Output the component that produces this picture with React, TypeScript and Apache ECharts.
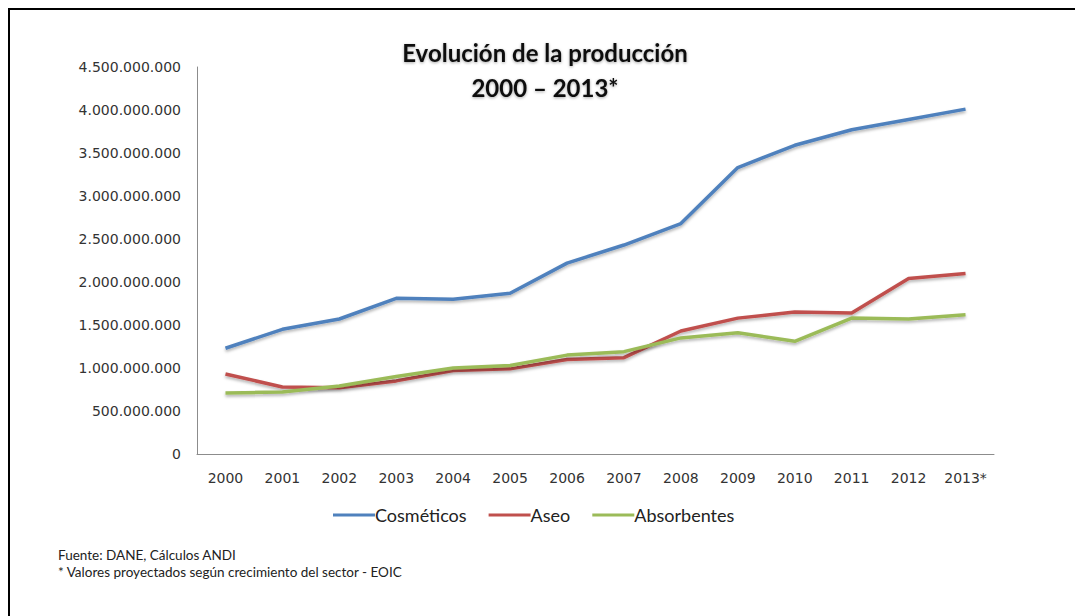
import React, { useEffect, useRef } from "react";
import * as echarts from "echarts";

const years = ["2000", "2001", "2002", "2003", "2004", "2005", "2006", "2007", "2008", "2009", "2010", "2011", "2012", "2013*"];
const cosmeticos = [1230e6, 1450e6, 1570e6, 1810e6, 1800e6, 1870e6, 2220e6, 2430e6, 2680e6, 3330e6, 3590e6, 3770e6, 3890e6, 4010e6];
const aseo = [930e6, 780e6, 770e6, 850e6, 970e6, 990e6, 1100e6, 1120e6, 1430e6, 1580e6, 1650e6, 1640e6, 2040e6, 2100e6];
const absorbentes = [710e6, 720e6, 790e6, 900e6, 1000e6, 1030e6, 1150e6, 1190e6, 1350e6, 1410e6, 1310e6, 1580e6, 1570e6, 1620e6];
const seriesNames = ["Cosméticos", "Aseo", "Absorbentes"];
const colors = ["#4F81BD", "#C0504D", "#9BBB59"];
const titleLines = ["Evolución de la producción", "2000 – 2013*"];
const notes = ["Fuente: DANE, Cálculos ANDI", "* Valores proyectados según crecimiento del sector - EOIC"];

const fmt = (v: number) => String(Math.round(v)).replace(/\B(?=(\d{3})+(?!\d))/g, ".");

export default function App() {
  const ref = useRef<HTMLDivElement>(null);
  useEffect(() => {
    if (!ref.current) return;
    const chart = echarts.init(ref.current, undefined, { renderer: "svg" });
    const data = [cosmeticos, aseo, absorbentes];
    chart.setOption({
      animation: false,
      backgroundColor: "#ffffff",
      textStyle: { fontFamily: "DejaVu Sans" },
      grid: { left: 197, right: 81, top: 67, bottom: 162 },
      legend: {
        left: 328,
        top: 501,
        itemWidth: 42,
        itemHeight: 3,
        itemGap: 22,
        icon: "rect",
        data: seriesNames,
        textStyle: { fontFamily: "Lato", fontSize: 18, color: "#222", padding: [0, 0, 0, -5] },
      },
      xAxis: {
        type: "category",
        data: years,
        boundaryGap: true,
        axisLine: { lineStyle: { color: "#8c8c8c", width: 1 } },
        axisTick: { show: false },
        axisLabel: { color: "#333", fontSize: 14, margin: 17, fontFamily: "DejaVu Sans" },
      },
      yAxis: {
        type: "value",
        min: 0,
        max: 4500000000,
        interval: 500000000,
        axisLine: { show: true, lineStyle: { color: "#8c8c8c", width: 1 } },
        axisTick: { show: false },
        splitLine: { show: false },
        axisLabel: { color: "#333", fontSize: 14, margin: 16, formatter: (v: number) => fmt(v), fontFamily: "DejaVu Sans" },
      },
      series: seriesNames.map((name, i) => ({
        name,
        type: "line",
        data: data[i],
        showSymbol: false,
        symbol: "none",
        color: colors[i],
        lineStyle: {
          width: 3.5,
          color: colors[i],
          shadowColor: "rgba(0,0,0,0.3)",
          shadowBlur: 3,
          shadowOffsetY: 2,
        },
      })),
      graphic: [
        {
          type: "rect",
          shape: { x: 9, y: 9, width: 1200, height: 800 },
          style: { fill: "none", stroke: "#000", lineWidth: 2 },
          silent: true,
        },
        ...titleLines.map((t, i) => ({
          type: "text",
          x: 545,
          y: 52 + i * 35,
          style: {
            text: t,
            textAlign: "center",
            textVerticalAlign: "middle",
            fontFamily: "Lato",
            fontWeight: "bold",
            fontSize: 24,
            fill: "#111",
            textShadowColor: "rgba(0,0,0,0.35)",
            textShadowBlur: 3,
            textShadowOffsetY: 1,
          },
        })),
        ...notes.map((t, i) => ({
          type: "text",
          x: 58,
          y: 555 + i * 17,
          style: {
            text: t,
            textVerticalAlign: "middle",
            fontFamily: "Lato",
            fontSize: 13.5,
            fill: "#222",
          },
        })),
      ],
    });
    return () => chart.dispose();
  }, []);
  return <div ref={ref} style={{ position: "fixed", left: 0, top: 0, width: 1075, height: 616 }} />;
}
